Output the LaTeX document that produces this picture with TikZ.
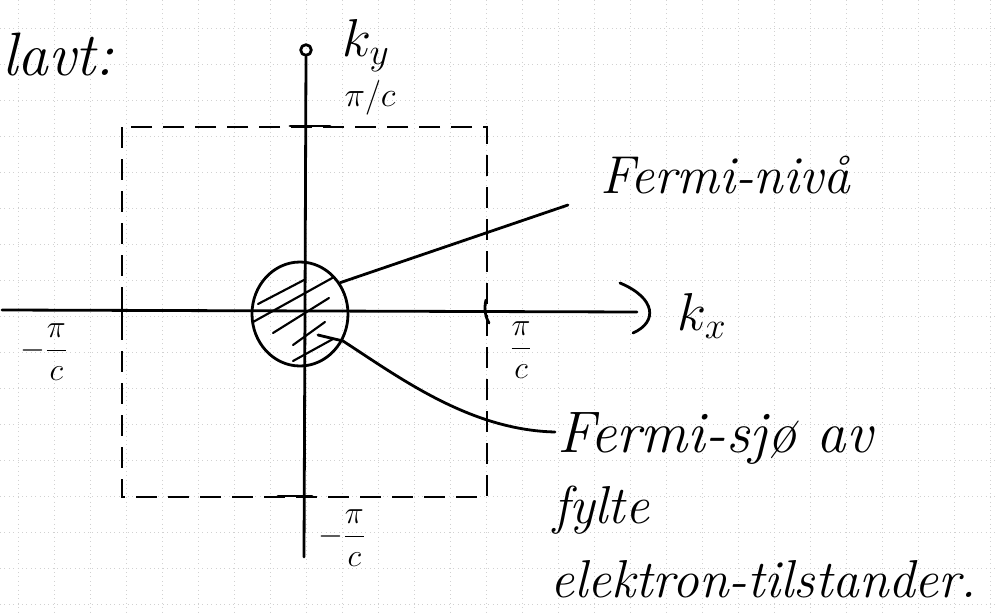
\documentclass[tikz,border=0pt]{standalone}
\usepackage{fix-cm}
\usepackage{fontspec}
\usetikzlibrary{shapes.geometric}
\begin{document}
\begin{tikzpicture}[x=0.75pt,y=-0.75pt,
  ink/.style={line width=2.1pt, line cap=round, line join=round},
  thinink/.style={line width=1.6pt, line cap=round},
  boxdash/.style={line width=1.4pt, dash pattern=on 16pt off 8pt},
  gridline/.style={black!18, line width=0.5pt, dash pattern=on 0.7pt off 2.6pt},
  hand/.style={font=\fontsize{40}{46}\selectfont\itshape, inner sep=0pt, anchor=base west},
  lbl/.style={font=\fontsize{24}{28}\selectfont, inner sep=0pt}]
\useasboundingbox (0,0) rectangle (996,614);
% squared paper
\foreach \gx in {18,54,...,990} \draw[gridline] (\gx,0) -- (\gx,614);
\foreach \gy in {28,64,...,604} \draw[gridline] (0,\gy) -- (996,\gy);

% Brillouin zone (dashed square)
\draw[boxdash] (122,127) rectangle (487,497);

% axes
\node[circle, draw, ink, minimum size=8pt, inner sep=0pt] (ycirc) at (306,50) {};
\coordinate (ybot) at (304,557);
\draw[ink] (ybot) -- (ycirc.south);
\coordinate (xleft) at (2,310);
\coordinate (xright) at (637,312);
\draw[ink] (xleft) -- (xright);
\coordinate (brA) at (620,283);
\coordinate (brB) at (633,333);
\draw[ink] (brA) .. controls (656,298) and (658,322) .. (brB);

% ticks
\coordinate (tA) at (290,126); \coordinate (tB) at (330,126);
\draw[ink] (tA) -- (tB);
\coordinate (bA) at (278,496); \coordinate (bB) at (312,496);
\draw[ink] (bA) -- (bB);
\coordinate (lA) at (122,297); \coordinate (lB) at (122,324);
\draw[ink] (lA) -- (lB);
\coordinate (rA) at (486,300); \coordinate (rB) at (489,323);
\draw[ink] (rA) .. controls (484,308) and (485,316) .. (rB);

% Fermi sphere (hatched)
\node[ellipse, draw, ink, minimum width=72pt, minimum height=78pt, inner sep=0pt] (FS) at (300,314) {};
\draw[thinink] (258,304) -- (304,280);
\draw[thinink] (253,322) -- (334,277);
\draw[thinink] (273,333) -- (329,298);
\draw[thinink] (293,345) -- (325,322);
\draw[thinink] (293,361) -- (333,339);

% labels on axes
\node[font=\fontsize{40}{46}\selectfont, inner sep=0pt] (ky) at (366,46) {$k_y$};
\node[font=\fontsize{26}{30}\selectfont, inner sep=0pt] (ptop) at (370,98) {$\pi/c$};
\node[lbl] (pleft) at (44,352) {$\displaystyle -\frac{\pi}{c}$};
\node[lbl] (pright) at (521,350) {$\displaystyle \frac{\pi}{c}$};
\node[lbl] (pbot) at (342,538) {$\displaystyle -\frac{\pi}{c}$};
\node[font=\fontsize{40}{46}\selectfont, inner sep=0pt] (kx) at (702,316) {$k_x$};

% texts
\node[hand, font=\fontsize{46}{52}\selectfont\itshape] (lavt) at (2,75) {lavt:};
\node[hand] (niva) at (600,193) {Fermi-nivå};
\node[hand, font=\fontsize{44}{50}\selectfont\itshape] (sjo) at (557,452) {Fermi-sjø av};
\node[hand] (fylte) at (553,523) {fylte};
\node[hand] (elek) at (550,597) {elektron-tilstander.};

% connectors
\coordinate (nivEnd) at (568,205);
\draw[ink] (FS.38) -- (nivEnd);
\coordinate (sjoStart) at (318,335);
\coordinate (sjoEnd) at (555,432);
\draw[ink] (sjoStart) -- (343,341) .. controls (400,378) and (470,430) .. (sjoEnd);
\end{tikzpicture}
\end{document}
